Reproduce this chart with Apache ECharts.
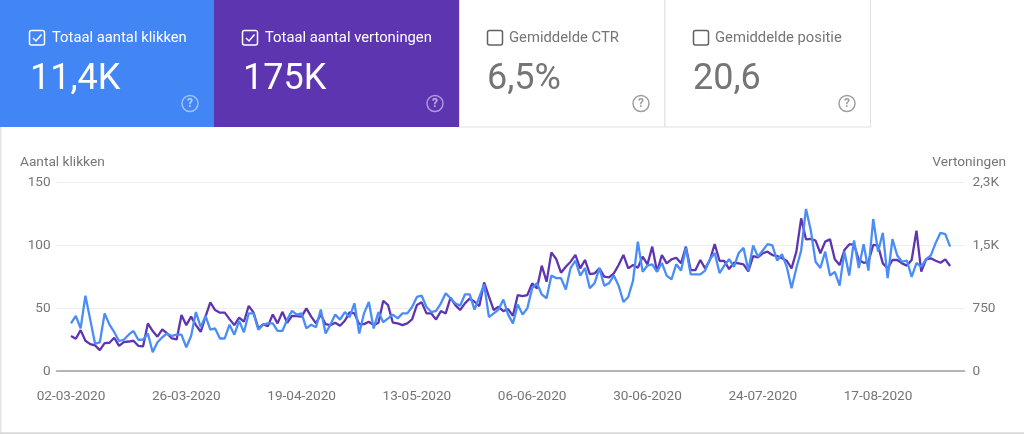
<!DOCTYPE html>
<html><head><meta charset="utf-8">
<style>html,body{margin:0;padding:0;background:#fff}#c{width:1024px;height:434px}</style>
<script src="https://cdn.jsdelivr.net/npm/echarts@6/dist/echarts.min.js"></script></head>
<body><div id="c"></div>
<script>
const startDate = '2020-02-28';
const dayCount = 190;
const leadDays = 3;
const labelEvery = 24;
const klikken = [38,44,34,60,41,22,23,46,37,31,24,25,29,32,25,25,30,15,23,27,30,28,29,29,19,28,47,35,44,33,34,26,26,37,29,40,31,46,46,33,37,38,38,32,32,41,48,45,
46,34,37,35,49,30,37,45,41,47,43,54,30,46,55,34,47,39,42,45,42,46,46,51,59,60,51,47,48,54,62,58,54,52,61,61,49,59,69,43,46,49,57,45,38,53,45,50,
66,70,61,58,76,74,74,65,82,88,76,82,66,70,82,68,70,76,68,55,59,72,103,79,84,85,79,86,76,73,85,80,98,77,77,77,80,89,94,78,84,89,83,94,98,80,
100,91,96,101,100,88,93,83,66,82,96,129,112,87,82,95,76,79,68,95,76,104,82,101,80,121,95,110,74,105,92,87,88,75,86,83,89,92,102,110,109,99];
const vertoningen = [419,387,490,363,323,307,252,335,339,399,303,347,354,363,303,295,570,479,411,498,450,390,378,669,549,650,549,470,650,820,729,698,698,621,549,638,590,780,698,510,558,537,677,570,708,578,660,657,
650,749,650,570,677,561,549,578,542,602,701,689,561,561,590,549,578,840,788,578,570,549,570,617,788,821,689,689,617,717,689,876,788,729,809,867,828,776,1059,888,729,768,717,741,660,908,
896,908,1047,987,1258,1067,1417,1338,1174,1246,1306,1386,1226,1326,1158,1166,1226,1127,1119,1166,1266,1386,1226,1266,1234,1365,1274,1485,1186,1386,1286,1333,1353,1286,1485,1206,1206,1326,1226,1326,1517,1317,1314,1218,1293,1286,1274,1190,
1373,1358,1406,1425,1385,1373,1346,1317,1226,1425,1823,1572,1577,1556,1406,1545,1572,1334,1266,1445,1512,1512,1326,1293,1305,1505,1497,1286,1226,1326,1326,1286,1259,1326,1676,1187,1334,1346,1317,1293,1334,1254];
const leftTicks = [0,50,100,150];
const rightTickLabels = {0:'0',750:'750',1500:'1,5K',2250:'2,3K'};

const categories = [];
const t0 = Date.parse(startDate + 'T00:00:00Z');
for (let i = 0; i < dayCount; i++) {
  const d = new Date(t0 + i * 864e5);
  const p = n => String(n).padStart(2, '0');
  categories.push(p(d.getUTCDate()) + '-' + p(d.getUTCMonth() + 1) + '-' + d.getUTCFullYear());
}
const pad = arr => Array(leadDays).fill(null).concat(arr);

const F = 'Roboto';
const GREY = '#757575';
const cards = [
  {x:0,w:214,fill:'#4285f4',on:true,box:29,label:'Totaal aantal klikken',lx:52,value:'11,4K',vx:30,q:190},
  {x:214,w:245.5,fill:'#5e35b1',on:true,box:242,label:'Totaal aantal vertoningen',lx:265,value:'175K',vx:243,q:435},
  {x:459.5,w:205.5,fill:'#fff',on:false,box:487,label:'Gemiddelde CTR',lx:509,value:'6,5%',vx:487,q:641},
  {x:665,w:205.5,fill:'#fff',on:false,box:693,label:'Gemiddelde positie',lx:715,value:'20,6',vx:693,q:847}
];
const g = [];
g.push({type:'line',silent:true,shape:{x1:0.7,y1:127,x2:0.7,y2:433},style:{stroke:'#e4e4e4',lineWidth:1.5}});
g.push({type:'line',silent:true,shape:{x1:0,y1:433.2,x2:1024,y2:433.2},style:{stroke:'#c8c8c8',lineWidth:1.2}});
cards.forEach(c=>{
  const fg = c.on ? '#fff' : '#757575';
  g.push({type:'rect',silent:true,shape:{x:c.x,y:-1,width:c.w,height:128},
    style:{fill:c.fill,stroke:c.on?null:'#e0e0e0',lineWidth:1}});
  g.push({type:'rect',silent:true,shape:{x:c.box+.5,y:30.5,width:15,height:14.5,r:2},
    style:{fill:'none',stroke:c.on?'#fff':'#616161',lineWidth:1.5}});
  if(c.on) g.push({type:'polyline',silent:true,shape:{points:[[c.box+4,38],[c.box+7,41],[c.box+12.5,34.5]]},
    style:{fill:'none',stroke:'#fff',lineWidth:1.5}});
  g.push({type:'text',silent:true,style:{x:c.lx,y:38.5,text:c.label,fill:fg,font:'14.8px '+F,verticalAlign:'middle'}});
  g.push({type:'text',silent:true,style:{x:c.vx,y:80,text:c.value,fill:fg,font:'36px '+F,verticalAlign:'middle'}});
  g.push({type:'circle',silent:true,shape:{cx:c.q,cy:103.5,r:8},
    style:{fill:'none',stroke:c.on?'rgba(255,255,255,.5)':'#9e9e9e',lineWidth:1.5}});
  g.push({type:'text',silent:true,style:{x:c.q,y:104,text:'?',fill:c.on?'rgba(255,255,255,.6)':'#9e9e9e',font:'bold 12px '+F,align:'center',verticalAlign:'middle'}});
});
g.push({type:'text',silent:true,style:{x:20,y:163,text:'Aantal klikken',fill:GREY,font:'13.7px '+F,verticalAlign:'middle'}});
g.push({type:'text',silent:true,style:{x:1006,y:163,text:'Vertoningen',fill:GREY,font:'13.7px '+F,align:'right',verticalAlign:'middle'}});

const chart = echarts.init(document.getElementById('c'));
chart.setOption({
  animation:false,
  backgroundColor:'#fff',
  textStyle:{fontFamily:F},
  graphic:{elements:g},
  grid:{left:56.6,right:59.5,top:182.5,bottom:62.8,containLabel:false},
  xAxis:{type:'category',data:categories,boundaryGap:false,
    axisLine:{lineStyle:{color:'#a0a0a0',width:1.6}},axisTick:{show:false},
    splitLine:{show:false},
    axisLabel:{color:GREY,fontSize:13.6,margin:18,fontFamily:F,hideOverlap:false,
      interval:i=>i>=leadDays&&(i-leadDays)%labelEvery===0}},
  yAxis:[
    {type:'value',min:leftTicks[0],max:leftTicks[3],interval:50,
     axisLine:{show:false},axisTick:{show:false},
     splitLine:{lineStyle:{color:'#eeeeee',width:1}},
     axisLabel:{color:GREY,fontSize:13.6,margin:6,fontFamily:F,padding:[5,0,0,0]}},
    {type:'value',min:0,max:2250,interval:750,position:'right',
     axisLine:{show:false},axisTick:{show:false},splitLine:{show:false},
     axisLabel:{color:GREY,fontSize:13.6,margin:8,fontFamily:F,padding:[5,0,0,0],formatter:v=>rightTickLabels[v]}}
  ],
  series:[
    {name:'Vertoningen',type:'line',yAxisIndex:1,data:pad(vertoningen),showSymbol:false,symbol:'none',
     lineStyle:{color:'#5e35b1',width:2.3},itemStyle:{color:'#5e35b1'}},
    {name:'Aantal klikken',type:'line',yAxisIndex:0,data:pad(klikken),showSymbol:false,symbol:'none',
     lineStyle:{color:'#4a8df6',width:2.3},itemStyle:{color:'#4a8df6'}}
  ]
});
</script></body></html>
